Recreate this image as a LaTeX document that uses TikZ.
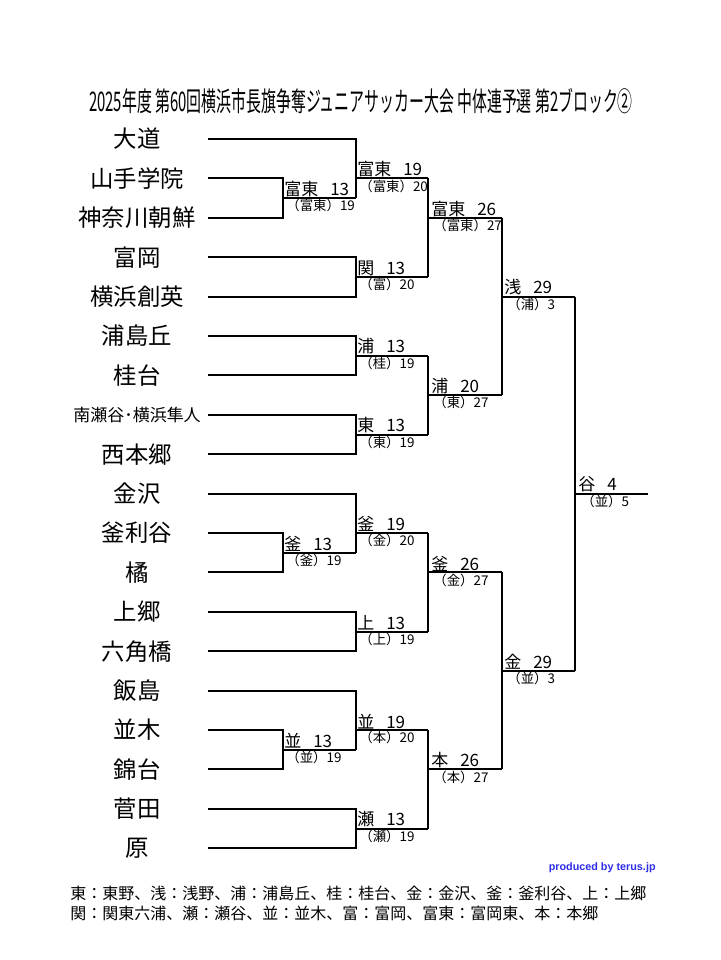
\documentclass[tikz,border=0pt]{standalone}
\usepackage{fontspec}
\setmainfont{Noto Sans CJK JP}
\newfontfamily\creditfont{Liberation Sans}
\usepackage{xcolor}
\definecolor{credit}{RGB}{45,45,235}

\newcommand{\wscore}[2]{#1\hspace{.7em}#2}

\tikzset{
    bracket/.style={black, line width=1pt},
    team/.style={font=\fontsize{11.7}{14}\selectfont, inner sep=0pt},
    winner/.style={anchor=south west, inner sep=0.5pt, font=\fontsize{8.5}{10}\selectfont},
    detail/.style={anchor=north west, inner sep=0.5pt, font=\fontsize{6.7}{8}\selectfont},
    legend/.style={anchor=west, inner sep=0pt, font=\fontsize{8}{10}\selectfont}
}

\begin{document}
\begin{tikzpicture}[x=0.5pt, y=-9.85pt]
                \useasboundingbox (0,-7.056) rectangle (720,41.675);

                %% title
                \node (title) at (361,-1.93)
                    {\scalebox{0.552}[1]{\fontsize{13.5}{16}\selectfont 2025年度 第60回横浜市長旗争奪ジュニアサッカー大会 中体連予選 第2ブロック②}};

                %% teams
                \node[team] (daido)    at (137,0)  {大道};
                \node[team] (yamate)   at (137,2)  {山手学院};
                \node[team] (kanachou) at (137,4)  {神奈川朝鮮};
                \node[team] (tomioka)  at (137,6)  {富岡};
                \node[team] (souei)    at (137,8)  {横浜創英};
                \node[team] (urashima) at (137,10) {浦島丘};
                \node[team] (katsura)  at (137,12) {桂台};
                \node[team, font=\fontsize{8.5}{10}\selectfont] (minamise) at (137,14) {南瀬谷･横浜隼人};
                \node[team] (nishihon) at (137,16) {西本郷};
                \node[team] (kanazawa) at (137,18) {金沢};
                \node[team] (kamariya) at (137,20) {釜利谷};
                \node[team] (tachibana) at (137,22) {橘};
                \node[team] (kamigou)  at (137,24) {上郷};
                \node[team] (rokkaku)  at (137,26) {六角橋};
                \node[team] (iijima)   at (137,28) {飯島};
                \node[team] (namiki)   at (137,30) {並木};
                \node[team] (nishikidai) at (137,32) {錦台};
                \node[team] (sugata)   at (137,34) {菅田};
                \node[team] (hara)     at (137,36) {原};

                %% round 1
                \draw[bracket] (208,2)  -| (283,4)  -- (208,4);
                \draw[bracket] (283,3)  -- (356,3);
                \draw[bracket] (208,20) -| (283,22) -- (208,22);
                \draw[bracket] (283,21) -- (356,21);
                \draw[bracket] (208,30) -| (283,32) -- (208,32);
                \draw[bracket] (283,31) -- (356,31);

                \node[winner] (w1a) at (283,3)  {\wscore{富東}{13}};
                \node[detail] (d1a) at (285,3)  {（富東）19};
                \node[winner] (w1b) at (283,21) {\wscore{釜}{13}};
                \node[detail] (d1b) at (285,21) {（釜）19};
                \node[winner] (w1c) at (283,31) {\wscore{並}{13}};
                \node[detail] (d1c) at (285,31) {（並）19};

                %% round 2
                \draw[bracket] (208,0)  -| (356,3);
                \draw[bracket] (356,2)  -- (428,2);
                \draw[bracket] (208,6)  -| (356,8)  -- (208,8);
                \draw[bracket] (356,7)  -- (428,7);
                \draw[bracket] (208,10) -| (356,12) -- (208,12);
                \draw[bracket] (356,11) -- (428,11);
                \draw[bracket] (208,14) -| (356,16) -- (208,16);
                \draw[bracket] (356,15) -- (428,15);
                \draw[bracket] (208,18) -| (356,21);
                \draw[bracket] (356,20) -- (428,20);
                \draw[bracket] (208,24) -| (356,26) -- (208,26);
                \draw[bracket] (356,25) -- (428,25);
                \draw[bracket] (208,28) -| (356,31);
                \draw[bracket] (356,30) -- (428,30);
                \draw[bracket] (208,34) -| (356,36) -- (208,36);
                \draw[bracket] (356,35) -- (428,35);

                \node[winner] (w2a) at (356,2)  {\wscore{富東}{19}};
                \node[detail] (d2a) at (358,2)  {（富東）20};
                \node[winner] (w2b) at (356,7)  {\wscore{関}{13}};
                \node[detail] (d2b) at (358,7)  {（富）20};
                \node[winner] (w2c) at (356,11) {\wscore{浦}{13}};
                \node[detail] (d2c) at (358,11) {（桂）19};
                \node[winner] (w2d) at (356,15) {\wscore{東}{13}};
                \node[detail] (d2d) at (358,15) {（東）19};
                \node[winner] (w2e) at (356,20) {\wscore{釜}{19}};
                \node[detail] (d2e) at (358,20) {（金）20};
                \node[winner] (w2f) at (356,25) {\wscore{上}{13}};
                \node[detail] (d2f) at (358,25) {（上）19};
                \node[winner] (w2g) at (356,30) {\wscore{並}{19}};
                \node[detail] (d2g) at (358,30) {（本）20};
                \node[winner] (w2h) at (356,35) {\wscore{瀬}{13}};
                \node[detail] (d2h) at (358,35) {（瀬）19};

                %% round 3
                \draw[bracket] (428,2)  -- (428,7);
                \draw[bracket] (428,4)  -- (502,4);
                \draw[bracket] (428,11) -- (428,15);
                \draw[bracket] (428,13) -- (502,13);
                \draw[bracket] (428,20) -- (428,25);
                \draw[bracket] (428,22) -- (502,22);
                \draw[bracket] (428,30) -- (428,35);
                \draw[bracket] (428,32) -- (502,32);

                \node[winner] (w3a) at (430,4)  {\wscore{富東}{26}};
                \node[detail] (d3a) at (432,4)  {（富東）27};
                \node[winner] (w3b) at (430,13) {\wscore{浦}{20}};
                \node[detail] (d3b) at (432,13) {（東）27};
                \node[winner] (w3c) at (430,22) {\wscore{釜}{26}};
                \node[detail] (d3c) at (432,22) {（金）27};
                \node[winner] (w3d) at (430,32) {\wscore{本}{26}};
                \node[detail] (d3d) at (432,32) {（本）27};

                %% round 4
                \draw[bracket] (502,4)  -- (502,13);
                \draw[bracket] (502,8)  -- (575,8);
                \draw[bracket] (502,22) -- (502,32);
                \draw[bracket] (502,27) -- (575,27);

                \node[winner] (w4a) at (503,8)  {\wscore{浅}{29}};
                \node[detail] (d4a) at (506,8)  {（浦）3};
                \node[winner] (w4b) at (503,27) {\wscore{金}{29}};
                \node[detail] (d4b) at (506,27) {（並）3};

                %% final
                \draw[bracket] (575,8)  -- (575,27);
                \draw[bracket] (575,18) -- (648,18);

                \node[winner] (w5) at (577,18) {\wscore{谷}{4}};
                \node[detail] (d5) at (580,18) {（並）5};

                %% credit + legend
                \node[anchor=east, inner sep=0pt, text=credit, font=\creditfont\bfseries\fontsize{5.4}{7}\selectfont]
                    (credit) at (656,37.0) {produced by terus.jp};
                \node[legend] (legend1) at (70,38.27) {東：東野、浅：浅野、浦：浦島丘、桂：桂台、金：金沢、釜：釜利谷、上：上郷};
                \node[legend] (legend2) at (70,39.29) {関：関東六浦、瀬：瀬谷、並：並木、富：富岡、富東：富岡東、本：本郷};

\end{tikzpicture}
\end{document}
